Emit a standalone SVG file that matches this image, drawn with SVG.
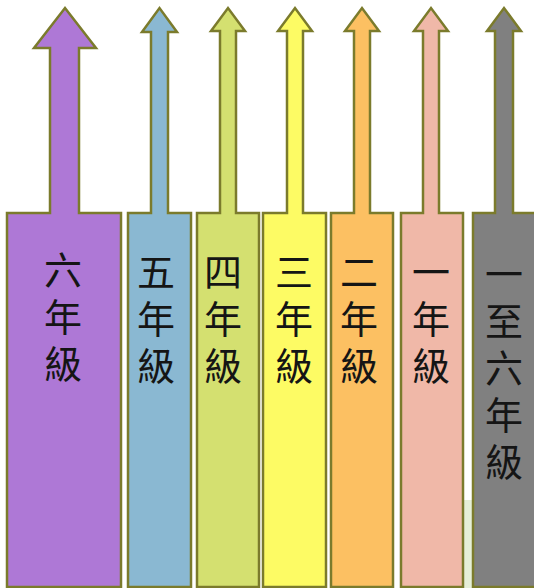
<svg xmlns="http://www.w3.org/2000/svg" width="534" height="588" viewBox="0 0 534 588">
<style>
.a{stroke:#7b7b2c;stroke-width:2.5;stroke-linejoin:miter}
.t{font-family:"Noto Sans CJK TC","Noto Sans CJK SC",sans-serif;font-size:38px;fill:#151515;writing-mode:vertical-rl;letter-spacing:9px}
</style>
<rect width="534" height="588" fill="#ffffff"/>
<rect x="463" y="500" width="10" height="88" fill="#e6efd8"/>
<g id="connectors"></g>
<g id="g6">
<path class="a" fill="#ae78d6" d="M7,587 V213 H50 V48 H34 L65,8 L96,48 H79 V213 H121 V587 Z"/>
<text class="t" x="63" y="251">六年級</text>
</g>
<g id="g5">
<path class="a" fill="#8ab8d2" d="M128,587 V213 H151 V32 H142 L159.5,8 L177,32 H168 V213 H191 V587 Z"/>
<text class="t" x="156" y="253">五年級</text>
</g>
<g id="g4">
<path class="a" fill="#d4e070" d="M197,587 V213 H220 V31 H211 L228,8 L245,31 H236 V213 H259 V587 Z"/>
<text class="t" x="223" y="253">四年級</text>
</g>
<g id="g3">
<path class="a" fill="#fdfb64" d="M263,587 V213 H287 V31 H278 L295,8 L312,31 H303 V213 H326 V587 Z"/>
<text class="t" x="294" y="253">三年級</text>
</g>
<g id="g2">
<path class="a" fill="#fcc062" d="M331,587 V213 H354 V31 H345 L362,8 L379,31 H370 V213 H393 V587 Z"/>
<text class="t" x="359" y="253">二年級</text>
</g>
<g id="g1">
<path class="a" fill="#f0b8a8" d="M401,587 V213 H423 V31 H414 L431,8 L448,31 H439 V213 H463 V587 Z"/>
<text class="t" x="431" y="253">一年級</text>
</g>
<g id="g16">
<path class="a" fill="#808080" d="M473,587 V213 H495 V31 H487 L504,8 L521,31 H513 V213 H540 V587 Z"/>
<text class="t" x="504" y="255">一至六年級</text>
</g>
</svg>
